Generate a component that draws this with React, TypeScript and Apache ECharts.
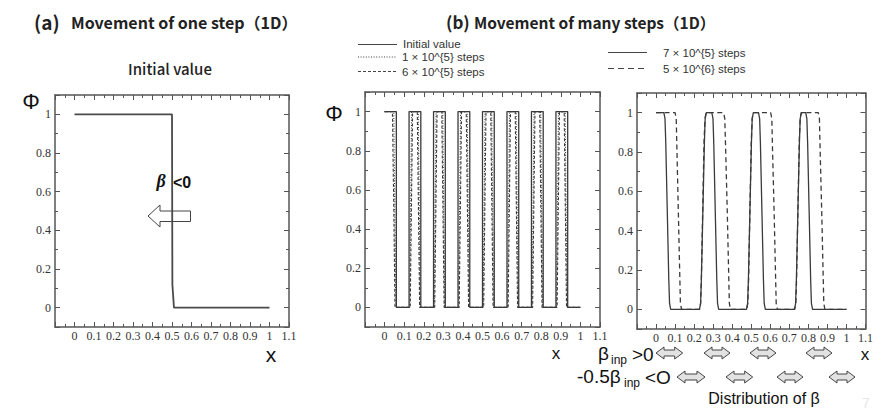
import { useEffect, useRef } from "react";
import * as echarts from "echarts";

// ---------- data ----------
const oneStepInitial: [number, number][] = [
  [0, 1], [0.5, 1], [0.502, 0.12], [0.51, 0], [1, 0],
];

const manyInitial: [number, number][] = [
  [0, 1], [0.06, 1], [0.06, 0], [0.125, 0], [0.125, 1], [0.185, 1], [0.185, 0],
  [0.25, 0], [0.25, 1], [0.31, 1], [0.31, 0], [0.375, 0], [0.375, 1], [0.435, 1], [0.435, 0],
  [0.5, 0], [0.5, 1], [0.56, 1], [0.56, 0], [0.625, 0], [0.625, 1], [0.685, 1], [0.685, 0],
  [0.75, 0], [0.75, 1], [0.81, 1], [0.81, 0], [0.875, 0], [0.875, 1], [0.935, 1], [0.935, 0],
  [1, 0],
];

const many1e5: [number, number][] = [
  [0, 1], [0.047, 1], [0.052, 0.5], [0.057, 0],
  [0.128, 0], [0.133, 0.5], [0.138, 1], [0.172, 1], [0.177, 0.5], [0.182, 0],
  [0.253, 0], [0.258, 0.5], [0.263, 1], [0.297, 1], [0.302, 0.5], [0.307, 0],
  [0.378, 0], [0.383, 0.5], [0.388, 1], [0.422, 1], [0.427, 0.5], [0.432, 0],
  [0.503, 0], [0.508, 0.5], [0.513, 1], [0.547, 1], [0.552, 0.5], [0.557, 0],
  [0.628, 0], [0.633, 0.5], [0.638, 1], [0.672, 1], [0.677, 0.5], [0.682, 0],
  [0.753, 0], [0.758, 0.5], [0.763, 1], [0.797, 1], [0.802, 0.5], [0.807, 0],
  [0.878, 0], [0.883, 0.5], [0.888, 1], [0.922, 1], [0.927, 0.5], [0.932, 0],
  [1, 0],
];

const many6e5: [number, number][] = [
  [0, 1], [0.04, 1], [0.047, 0.5], [0.053, 0],
  [0.131, 0], [0.137, 0.5], [0.143, 1], [0.167, 1], [0.173, 0.5], [0.179, 0],
  [0.256, 0], [0.262, 0.5], [0.268, 1], [0.292, 1], [0.298, 0.5], [0.304, 0],
  [0.381, 0], [0.387, 0.5], [0.393, 1], [0.417, 1], [0.423, 0.5], [0.429, 0],
  [0.506, 0], [0.512, 0.5], [0.518, 1], [0.542, 1], [0.548, 0.5], [0.554, 0],
  [0.631, 0], [0.637, 0.5], [0.643, 1], [0.667, 1], [0.673, 0.5], [0.679, 0],
  [0.756, 0], [0.762, 0.5], [0.768, 1], [0.792, 1], [0.798, 0.5], [0.804, 0],
  [0.881, 0], [0.887, 0.5], [0.893, 1], [0.917, 1], [0.923, 0.5], [0.929, 0],
  [1, 0],
];

const steps7e5: [number, number][] = [
  [0, 1], [0.041, 1], [0.047, 0.97], [0.051, 0.85], [0.059, 0.5], [0.067, 0.15], [0.071, 0.03], [0.077, 0],
  [0.228, 0], [0.234, 0.03], [0.238, 0.15], [0.246, 0.5], [0.254, 0.85], [0.258, 0.97], [0.264, 1],
  [0.293, 1], [0.299, 0.97], [0.303, 0.85], [0.311, 0.5], [0.319, 0.15], [0.323, 0.03], [0.329, 0],
  [0.475, 0], [0.481, 0.03], [0.485, 0.15], [0.493, 0.5], [0.501, 0.85], [0.505, 0.97], [0.511, 1],
  [0.538, 1], [0.544, 0.97], [0.548, 0.85], [0.556, 0.5], [0.564, 0.15], [0.568, 0.03], [0.574, 0],
  [0.727, 0], [0.733, 0.03], [0.737, 0.15], [0.745, 0.5], [0.753, 0.85], [0.757, 0.97], [0.763, 1],
  [0.786, 1], [0.792, 0.97], [0.796, 0.85], [0.804, 0.5], [0.812, 0.15], [0.816, 0.03], [0.822, 0],
  [1, 0],
];

const steps5e6: [number, number][] = [
  [0, 1], [0.1, 1], [0.106, 0.97], [0.11, 0.8], [0.117, 0.5], [0.124, 0.2], [0.128, 0.03], [0.134, 0],
  [0.228, 0], [0.234, 0.03], [0.238, 0.15], [0.245, 0.5], [0.252, 0.85], [0.257, 0.97], [0.263, 1],
  [0.355, 1], [0.361, 0.97], [0.366, 0.8], [0.374, 0.5], [0.381, 0.2], [0.385, 0.03], [0.391, 0],
  [0.476, 0], [0.482, 0.03], [0.486, 0.15], [0.493, 0.5], [0.5, 0.85], [0.505, 0.97], [0.511, 1],
  [0.602, 1], [0.608, 0.97], [0.612, 0.8], [0.62, 0.5], [0.627, 0.2], [0.631, 0.03], [0.637, 0],
  [0.728, 0], [0.734, 0.03], [0.738, 0.15], [0.745, 0.5], [0.752, 0.85], [0.757, 0.97], [0.763, 1],
  [0.852, 1], [0.858, 0.97], [0.862, 0.8], [0.87, 0.5], [0.877, 0.2], [0.881, 0.03], [0.887, 0],
  [1, 0],
];

const seriesNames = [
  "Initial value",
  "1 × 10^{5} steps",
  "6 × 10^{5} steps",
  "7 × 10^{5} steps",
  "5 × 10^{6} steps",
];

const AXIS_MIN = -0.1;
const AXIS_MAX = 1.1;

// ---------- styling ----------
const BOX = "#555";
const INK = "#3a3a3a";
const TXT = "#222";
const SERIF = "Liberation Serif";
const SANS = "Liberation Sans";
const CJK = "Noto Sans CJK JP";

const fmtX = (v: number) => (v < -0.05 ? "" : String(Math.round(v * 10) / 10));
const fmtY = (v: number) => (v < -0.05 || v > 1.05 ? "" : String(Math.round(v * 10) / 10));

function makeXAxes(grid: number) {
  const base = {
    type: "value",
    gridIndex: grid,
    min: AXIS_MIN,
    max: AXIS_MAX,
    interval: 0.1,
    splitLine: { show: false },
    axisLine: { show: true, onZero: false, lineStyle: { color: BOX, width: 1.5 } },
    axisTick: { show: true, inside: true, length: 5, lineStyle: { color: BOX, width: 1 } },
    minorTick: { show: true, splitNumber: 2, length: 3, lineStyle: { color: BOX, width: 1 } },
  };
  return [
    {
      ...base,
      position: "bottom",
      axisLabel: { show: true, margin: 3, fontFamily: SERIF, fontSize: 12, color: "#333", formatter: fmtX },
    },
    { ...base, position: "top", axisLabel: { show: false } },
  ];
}

function makeYAxes(grid: number) {
  const base = {
    type: "value",
    gridIndex: grid,
    min: AXIS_MIN,
    max: AXIS_MAX,
    splitNumber: 6,
    splitLine: { show: false },
    axisLine: { show: true, onZero: false, lineStyle: { color: BOX, width: 1.5 } },
    axisTick: { show: true, inside: true, length: 5, lineStyle: { color: BOX, width: 1 } },
    minorTick: { show: true, splitNumber: 2, length: 3, lineStyle: { color: BOX, width: 1 } },
  };
  return [
    {
      ...base,
      position: "left",
      axisLabel: { show: true, margin: 4, fontFamily: SERIF, fontSize: 12, color: "#333", formatter: fmtY },
    },
    { ...base, position: "right", axisLabel: { show: false } },
  ];
}

function text(
  x: number, y: number, t: string, size: number, family: string,
  align = "left", fill = TXT, weight: any = "normal", fontStyle = "normal"
) {
  return {
    type: "text", x, y, z: 10,
    style: { text: t, fontSize: size, fontFamily: family, fontWeight: weight, fontStyle, fill, align, verticalAlign: "middle" },
  };
}

function doubleArrow(x0: number, x1: number, yc: number) {
  const h = 6, s = 3, L = 8;
  return {
    type: "polygon",
    z: 10,
    shape: {
      points: [
        [x0, yc], [x0 + L, yc - h], [x0 + L, yc - s], [x1 - L, yc - s], [x1 - L, yc - h],
        [x1, yc], [x1 - L, yc + h], [x1 - L, yc + s], [x0 + L, yc + s], [x0 + L, yc + h],
      ],
    },
    style: { fill: "#e2e2e2", stroke: "#444", lineWidth: 1 },
  };
}

function legendLine(x1: number, x2: number, y: number, dash: number[] | null) {
  return {
    type: "line",
    z: 10,
    shape: { x1, y1: y, x2, y2: y },
    style: { stroke: "#444", lineWidth: 1.2, lineDash: dash || undefined },
  };
}

export default function App() {
  const ref = useRef<HTMLDivElement>(null);

  useEffect(() => {
    const chart = echarts.init(ref.current!, null, { renderer: "svg" });

    const xAxis = [...makeXAxes(0), ...makeXAxes(1), ...makeXAxes(2)];
    const yAxis = [...makeYAxes(0), ...makeYAxes(1), ...makeYAxes(2)];

    const line = (name: string, data: [number, number][], gi: number, type: any, width = 1.3, color = INK) => ({
      name,
      type: "line",
      xAxisIndex: gi * 2,
      yAxisIndex: gi * 2,
      data,
      showSymbol: false,
      symbol: "none",
      smooth: false,
      lineStyle: { color, width, type },
      emphasis: { disabled: true },
    });

    const option: any = {
      animation: false,
      backgroundColor: "#fff",
      grid: [
        { left: 55, top: 95, width: 234, height: 232 },
        { left: 365, top: 92, width: 235, height: 235 },
        { left: 637, top: 93, width: 235, height: 236 },
      ],
      xAxis,
      yAxis,
      series: [
        line(seriesNames[0], oneStepInitial, 0, "solid", 1.8, "#4a4a4a"),
        line(seriesNames[2], many6e5, 1, [3, 2], 1.1),
        line(seriesNames[1], many1e5, 1, [1, 1.6], 1.1),
        line(seriesNames[0], manyInitial, 1, "solid", 1.3),
        line(seriesNames[4], steps5e6, 2, [5, 3.5], 1.3),
        line(seriesNames[3], steps7e5, 2, "solid", 1.3),
      ],
      graphic: [
        // titles
        text(34, 21, "(a)", 19, CJK, "left", TXT, "bold"),
        text(71, 22, "Movement of one step（1D）", 16, CJK, "left", TXT, "bold"),
        text(446, 21, "(b)", 17, CJK, "left", TXT, "bold"),
        text(474, 22, "Movement of many steps（1D）", 15.5, CJK, "left", TXT, "bold"),
        text(170, 68, "Initial value", 15, CJK, "center", TXT, 500),
        // axis names
        text(31, 101, "Φ", 22, SANS, "center", "#111"),
        text(334, 113, "Φ", 22, SANS, "center", "#111"),
        text(271, 354, "x", 21, SANS, "center", "#111"),
        text(556, 353, "x", 17, SANS, "center", "#111"),
        text(865, 354, "x", 17, SANS, "center", "#111"),
        // legend left
        legendLine(358, 397, 44.5, null),
        legendLine(358, 397, 57, [1, 1.6]),
        legendLine(358, 397, 71.5, [3, 2]),
        text(403, 44, seriesNames[0], 11.5, SANS, "left", "#333"),
        text(402, 57, seriesNames[1], 11.5, SANS, "left", "#333"),
        text(402, 71.5, seriesNames[2], 11.5, SANS, "left", "#333"),
        // legend right
        legendLine(608, 647, 52.5, null),
        legendLine(608, 647, 68.5, [6, 4]),
        text(663, 52.5, seriesNames[3], 11.5, SANS, "left", "#333"),
        text(663, 68.5, seriesNames[4], 11.5, SANS, "left", "#333"),
        // panel (a) arrow and beta
        {
          type: "polygon",
          z: 10,
          shape: {
            points: [[148, 216], [160, 205], [160, 211], [190.5, 211], [190.5, 221.5], [160, 221.5], [160, 227]],
          },
          style: { fill: "transparent", stroke: "#444", lineWidth: 1 },
        },
        text(161, 181, "β", 18, SERIF, "center", "#111", "bold", "italic"),
        text(173, 182, "<0", 16, SANS, "left", "#111", "bold"),
        // distribution of beta
        text(598, 353, "β", 19, SANS, "left", "#111"),
        text(611, 360, "inp", 12, SANS, "left", "#111"),
        text(632, 354, ">0", 19, SANS, "left", "#111"),
        doubleArrow(656, 682.7, 353),
        doubleArrow(704, 730, 353),
        doubleArrow(750, 776, 353),
        doubleArrow(806, 832, 353),
        text(577, 376, "-0.5β", 19, SANS, "left", "#111"),
        text(624, 383, "inp", 12, SANS, "left", "#111"),
        text(645, 377, "<O", 19, SANS, "left", "#111"),
        doubleArrow(677, 705, 377),
        doubleArrow(726, 752.7, 377),
        doubleArrow(777, 803, 377),
        doubleArrow(829, 855, 377),
        text(764, 398, "Distribution of β", 16, SANS, "center", "#111"),
        text(866, 403, "7", 14, SANS, "center", "#e6e6e6"),
      ],
    };

    chart.setOption(option);
    return () => chart.dispose();
  }, []);

  return (
    <div
      ref={ref}
      style={{ position: "absolute", left: 0, top: 0, width: 876, height: 414, background: "#fff" }}
    />
  );
}
